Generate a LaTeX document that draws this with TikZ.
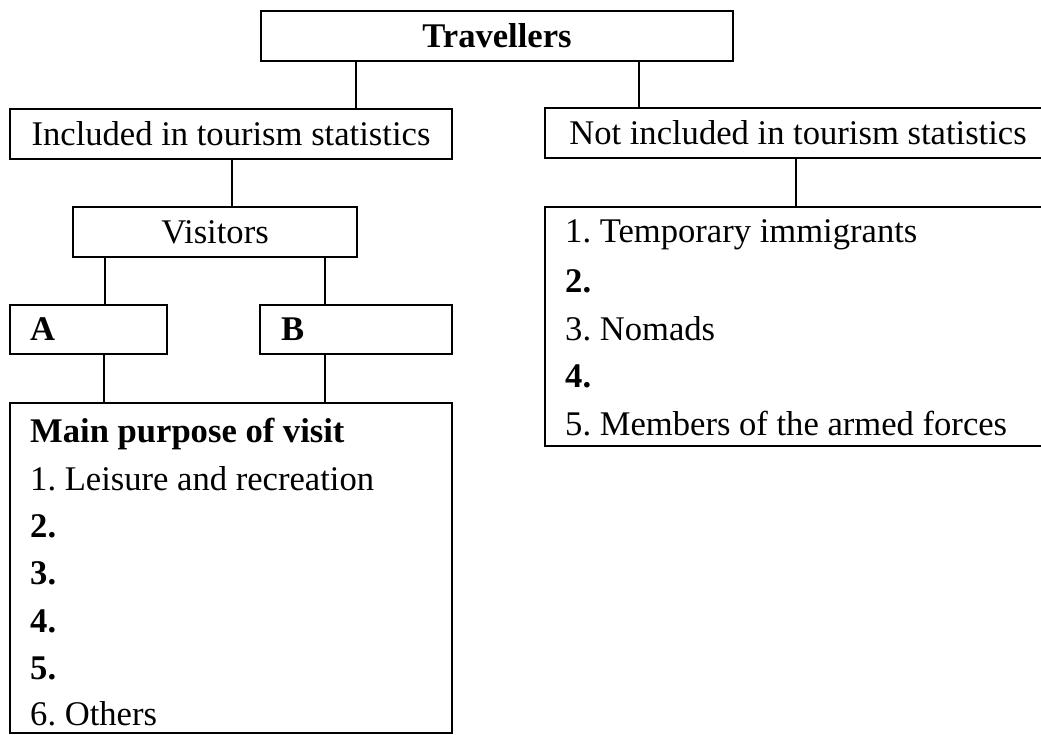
\documentclass[tikz,border=0pt]{standalone}
\usepackage{fontspec}
\setmainfont{Liberation Serif}
\frenchspacing
\begin{document}
\begin{tikzpicture}[x=1pt,y=-1pt,
  box/.style={draw=black,line width=2.4pt,rectangle,inner sep=0pt,font=\fontsize{34.6}{47.5}\selectfont},
  conn/.style={draw=black,line width=2pt},
  itemtxt/.style={anchor=base west,inner sep=0pt,font=\fontsize{34.6}{47.5}\selectfont}]
\useasboundingbox (0,0) rectangle (1041,735);
\fill[white] (0,0) rectangle (1041,735);
% boxes
\node[box,minimum width=472pt,minimum height=50pt] (trav) at (497,36) {\bfseries Travellers};
\node[box,minimum width=442pt,minimum height=50pt] (inc) at (231,134) {Included in tourism statistics};
\node[box,minimum width=506pt,minimum height=50pt] (notinc) at (798,133) {Not included in tourism statistics};
\node[box,minimum width=284pt,minimum height=50pt] (vis) at (215,232) {Visitors};
\node[box,minimum width=157pt,minimum height=49pt,text width=117pt,align=left,inner xsep=20pt] (A) at (88.5,329.5) {\bfseries A};
\node[box,minimum width=192pt,minimum height=49pt,text width=150pt,align=left,inner xsep=21pt] (B) at (356,329.5) {\bfseries B};
\node[box,minimum width=442pt,minimum height=330pt] (main) at (231,568) {};
\node[box,minimum width=506pt,minimum height=239pt] (list) at (798,326.5) {};
% connectors
\draw[conn] (trav.south -| 356,0) -- (inc.north -| 356,0);
\draw[conn] (trav.south -| 639,0) -- (notinc.north -| 639,0);
\draw[conn] (inc.south -| 232,0) -- (vis.north -| 232,0);
\draw[conn] (vis.south -| 105,0) -- (A.north -| 105,0);
\draw[conn] (vis.south -| 325,0) -- (B.north -| 325,0);
\draw[conn] (A.south -| 104,0) -- (main.north -| 104,0);
\draw[conn] (B.south -| 325,0) -- (main.north -| 325,0);
\draw[conn] (notinc.south -| 796,0) -- (list.north -| 796,0);
% main purpose list
\node[itemtxt] (m0) at (30,442) {\bfseries Main purpose of visit};
\node[itemtxt] (m1) at (30,490) {1. Leisure and recreation};
\node[itemtxt] (m2) at (30,537) {\bfseries 2.};
\node[itemtxt] (m3) at (30,584) {\bfseries 3.};
\node[itemtxt] (m4) at (30,632) {\bfseries 4.};
\node[itemtxt] (m5) at (30,679) {\bfseries 5.};
\node[itemtxt] (m6) at (30,725) {6. Others};
% not included list
\node[itemtxt] (n1) at (565,243) {1. Temporary immigrants};
\node[itemtxt] (n2) at (565,293) {\bfseries 2.};
\node[itemtxt] (n3) at (565,340) {3. Nomads};
\node[itemtxt] (n4) at (565,387) {\bfseries 4.};
\node[itemtxt] (n5) at (565,435) {5. Members of the armed forces};
\end{tikzpicture}
\end{document}
